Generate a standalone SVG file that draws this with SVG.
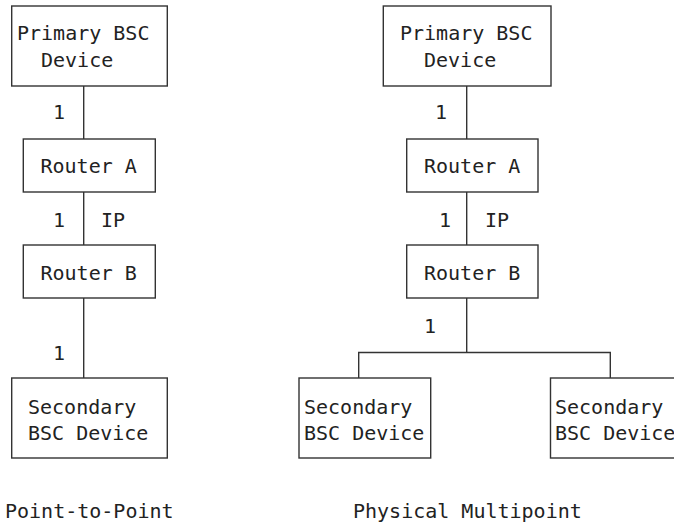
<svg xmlns="http://www.w3.org/2000/svg" width="674" height="525" viewBox="0 0 674 525">
<style>
.box{fill:#fff;stroke:#333;stroke-width:1.4}
.ln{fill:none;stroke:#333;stroke-width:1.4}
text{font-family:"DejaVu Sans Mono","Liberation Mono",monospace;font-size:20px;fill:#222}
</style>
<rect width="674" height="525" fill="#fff"/>
<g id="connectors">
<line class="ln" x1="83.7" y1="86" x2="83.7" y2="139"/>
<line class="ln" x1="83.7" y1="192" x2="83.7" y2="245"/>
<line class="ln" x1="83.7" y1="298" x2="83.7" y2="378"/>
<line class="ln" x1="466.7" y1="86" x2="466.7" y2="139"/>
<line class="ln" x1="466.7" y1="192" x2="466.7" y2="245"/>
<polyline class="ln" points="466.7,298 466.7,352.5"/>
<polyline class="ln" points="358.7,378 358.7,352.5 610.3,352.5 610.3,378"/>
<text x="53" y="119">1</text>
<text x="53" y="227">1</text>
<text x="101" y="227">IP</text>
<text x="53" y="360">1</text>
<text x="435" y="119">1</text>
<text x="439" y="227">1</text>
<text x="485" y="227">IP</text>
<text x="424" y="333">1</text>
</g>
<g id="left-primary">
<rect class="box" x="11.7" y="6" width="155.6" height="80"/>
<text x="17" y="39.5">Primary BSC</text>
<text x="41" y="67">Device</text>
</g>
<g id="left-router-a">
<rect class="box" x="23.3" y="139" width="132" height="53"/>
<text x="40.5" y="173">Router A</text>
</g>
<g id="left-router-b">
<rect class="box" x="23.3" y="245" width="132" height="53"/>
<text x="40.5" y="280">Router B</text>
</g>
<g id="left-secondary">
<rect class="box" x="11.7" y="378" width="155.6" height="80"/>
<text x="28" y="413.5">Secondary</text>
<text x="28" y="439.5">BSC Device</text>
</g>
<g id="right-primary">
<rect class="box" x="383.3" y="6" width="167.7" height="80"/>
<text x="400" y="39.5">Primary BSC</text>
<text x="424" y="67">Device</text>
</g>
<g id="right-router-a">
<rect class="box" x="406.7" y="139" width="131.3" height="53"/>
<text x="424" y="173">Router A</text>
</g>
<g id="right-router-b">
<rect class="box" x="406.7" y="245" width="131.3" height="53"/>
<text x="424" y="280">Router B</text>
</g>
<g id="right-secondary-1">
<rect class="box" x="299" y="378" width="131.7" height="80"/>
<text x="304" y="413.5">Secondary</text>
<text x="304" y="439.5">BSC Device</text>
</g>
<g id="right-secondary-2">
<rect class="box" x="550.5" y="378" width="140" height="80"/>
<text x="555" y="413.5">Secondary</text>
<text x="555" y="439.5">BSC Device</text>
</g>
<g id="captions">
<text x="5" y="518">Point-to-Point</text>
<text x="353" y="518">Physical Multipoint</text>
</g>
</svg>
